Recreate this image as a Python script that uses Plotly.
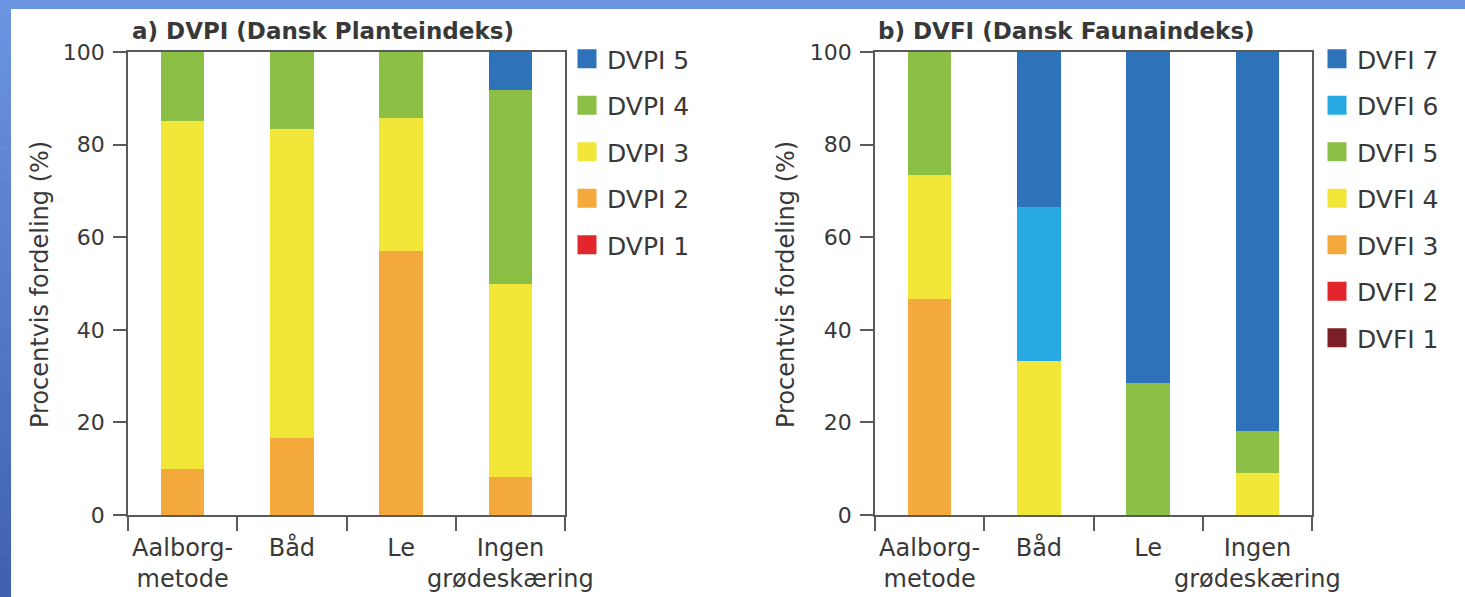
import plotly.graph_objects as go

W, H = 1465, 597

categories = ["Aalborg-<br>metode", "Båd", "Le", "Ingen<br>grødeskæring"]

# Panel a: DVPI (% distribution)
dvpi1 = [0, 0, 0, 0]
dvpi2 = [10.0, 16.7, 57.1, 8.3]
dvpi3 = [75.0, 66.7, 28.6, 41.7]
dvpi4 = [15.0, 16.7, 14.3, 41.7]
dvpi5 = [0, 0, 0, 8.3]
dvpi_names = ["DVPI 1", "DVPI 2", "DVPI 3", "DVPI 4", "DVPI 5"]

# Panel b: DVFI (% distribution)
dvfi1 = [0, 0, 0, 0]
dvfi2 = [0, 0, 0, 0]
dvfi3 = [46.7, 0, 0, 0]
dvfi4 = [26.7, 33.3, 0, 9.1]
dvfi5 = [26.7, 0, 28.6, 9.1]
dvfi6 = [0, 33.3, 0, 0]
dvfi7 = [0, 33.4, 71.4, 81.8]
dvfi_names = ["DVFI 1", "DVFI 2", "DVFI 3", "DVFI 4", "DVFI 5", "DVFI 6", "DVFI 7"]

c_darkred = "#7A1F24"
c_red = "#E3262B"
c_orange = "#F4A93C"
c_yellow = "#F2E639"
c_green = "#8CBF46"
c_light = "#29A9E1"
c_blue = "#2E72B9"

dvpi_colors = [c_red, c_orange, c_yellow, c_green, c_blue]
dvfi_colors = [c_darkred, c_red, c_orange, c_yellow, c_green, c_light, c_blue]

FONT = "DejaVu Sans"
TXT = "#383838"
AX = "#5a5a5a"

fig = go.Figure()

for name, vals, col in zip(dvpi_names, [dvpi1, dvpi2, dvpi3, dvpi4, dvpi5], dvpi_colors):
    fig.add_trace(go.Bar(x=categories, y=vals, marker=dict(color=col, line=dict(width=0)),
                         name=name, showlegend=False, xaxis="x", yaxis="y"))
for name, vals, col in zip(dvfi_names, [dvfi1, dvfi2, dvfi3, dvfi4, dvfi5, dvfi6, dvfi7], dvfi_colors):
    fig.add_trace(go.Bar(x=categories, y=vals, marker=dict(color=col, line=dict(width=0)),
                         name=name, showlegend=False, xaxis="x2", yaxis="y2"))

# legend entries (top to bottom)
for name, col in reversed(list(zip(dvpi_names, dvpi_colors))):
    fig.add_trace(go.Scatter(x=[None], y=[None], mode="markers", name=name,
                             marker=dict(symbol="square", size=16, color=col, line=dict(width=3, color=col)),
                             legend="legend", legendgroup="a" + name, xaxis="x", yaxis="y"))
for name, col in reversed(list(zip(dvfi_names, dvfi_colors))):
    fig.add_trace(go.Scatter(x=[None], y=[None], mode="markers", name=name,
                             marker=dict(symbol="square", size=16, color=col, line=dict(width=3, color=col)),
                             legend="legend2", legendgroup="b" + name, xaxis="x2", yaxis="y2"))

def px_x(p):
    return p / W

def px_y(p):
    return 1 - p / H

xa = dict(type="category", range=[-0.5, 3.5], tickson="boundaries", ticks="outside", ticklen=14,
          tickwidth=1.5, tickcolor=AX, showline=True, linecolor=AX, linewidth=1.5, mirror=True,
          showgrid=False, zeroline=False, tickangle=0, automargin=False, ticklabelstandoff=10,
          tickfont=dict(family=FONT, size=24, color=TXT))
ya = dict(range=[0, 100], tickvals=[0, 20, 40, 60, 80, 100], ticks="outside", ticklen=13,
          tickwidth=1.5, tickcolor=AX, showline=True, linecolor=AX, linewidth=1.5, mirror=True,
          showgrid=False, zeroline=False, automargin=False, tickfont=dict(family=FONT, size=22, color=TXT),
          ticklabelstandoff=4)

y_dom = [px_y(515), px_y(52)]

fig.update_layout(
    width=W, height=H,
    margin=dict(l=0, r=0, t=0, b=0, autoexpand=False),
    paper_bgcolor="white", plot_bgcolor="rgba(0,0,0,0)",
    barmode="stack", bargap=0.6,
    xaxis=dict(xa, domain=[px_x(128), px_x(565)], anchor="y"),
    yaxis=dict(ya, domain=y_dom, anchor="x"),
    xaxis2=dict(xa, domain=[px_x(875), px_x(1312)], anchor="y2"),
    yaxis2=dict(ya, domain=y_dom, anchor="x2"),
    legend=dict(x=px_x(567), y=px_y(36), xanchor="left", yanchor="top", traceorder="grouped",
                tracegroupgap=11, font=dict(family=FONT, size=25, color=TXT), bgcolor="rgba(0,0,0,0)"),
    legend2=dict(x=px_x(1317), y=px_y(36), xanchor="left", yanchor="top", traceorder="grouped",
                 tracegroupgap=11, font=dict(family=FONT, size=25, color=TXT), bgcolor="rgba(0,0,0,0)"),
    showlegend=True,
)

annotations = [
    dict(text="<b>a) DVPI (Dansk Planteindeks)</b>", x=px_x(130), y=px_y(31), xanchor="left", yanchor="middle"),
    dict(text="<b>b) DVFI (Dansk Faunaindeks)</b>", x=px_x(876), y=px_y(31), xanchor="left", yanchor="middle"),
]
for a in annotations:
    a.update(xref="paper", yref="paper", showarrow=False, font=dict(family=FONT, size=23, color=TXT))
for xc in (40, 786):
    annotations.append(dict(text="Procentvis fordeling (%)", x=px_x(xc), y=px_y(285), xref="paper", yref="paper",
                            xanchor="center", yanchor="middle", textangle=-90, showarrow=False,
                            font=dict(family=FONT, size=24, color=TXT)))
fig.update_layout(annotations=annotations)

# decorative blue frame (top band + left gradient band)
shapes = [dict(type="rect", xref="paper", yref="paper", x0=0, x1=1, y0=px_y(9), y1=1,
               fillcolor="#6B95E3", line=dict(width=0), layer="below")]
top_rgb = (0x6B, 0x95, 0xE3)
bot_rgb = (0x3F, 0x60, 0xAF)
n = 40
for i in range(n):
    t = (i + 0.5) / n
    r, g, b = (int(round(top_rgb[k] + (bot_rgb[k] - top_rgb[k]) * t)) for k in range(3))
    shapes.append(dict(type="rect", xref="paper", yref="paper", x0=0, x1=px_x(11),
                       y0=1 - (i + 1) / n - 0.001, y1=1 - i / n,
                       fillcolor=f"rgb({r},{g},{b})", line=dict(width=0), layer="below"))
fig.update_layout(shapes=shapes)

fig.write_html("out.html", config={"displayModeBar": False},
               post_script="document.body.style.margin='0';document.body.style.overflow='hidden';")
